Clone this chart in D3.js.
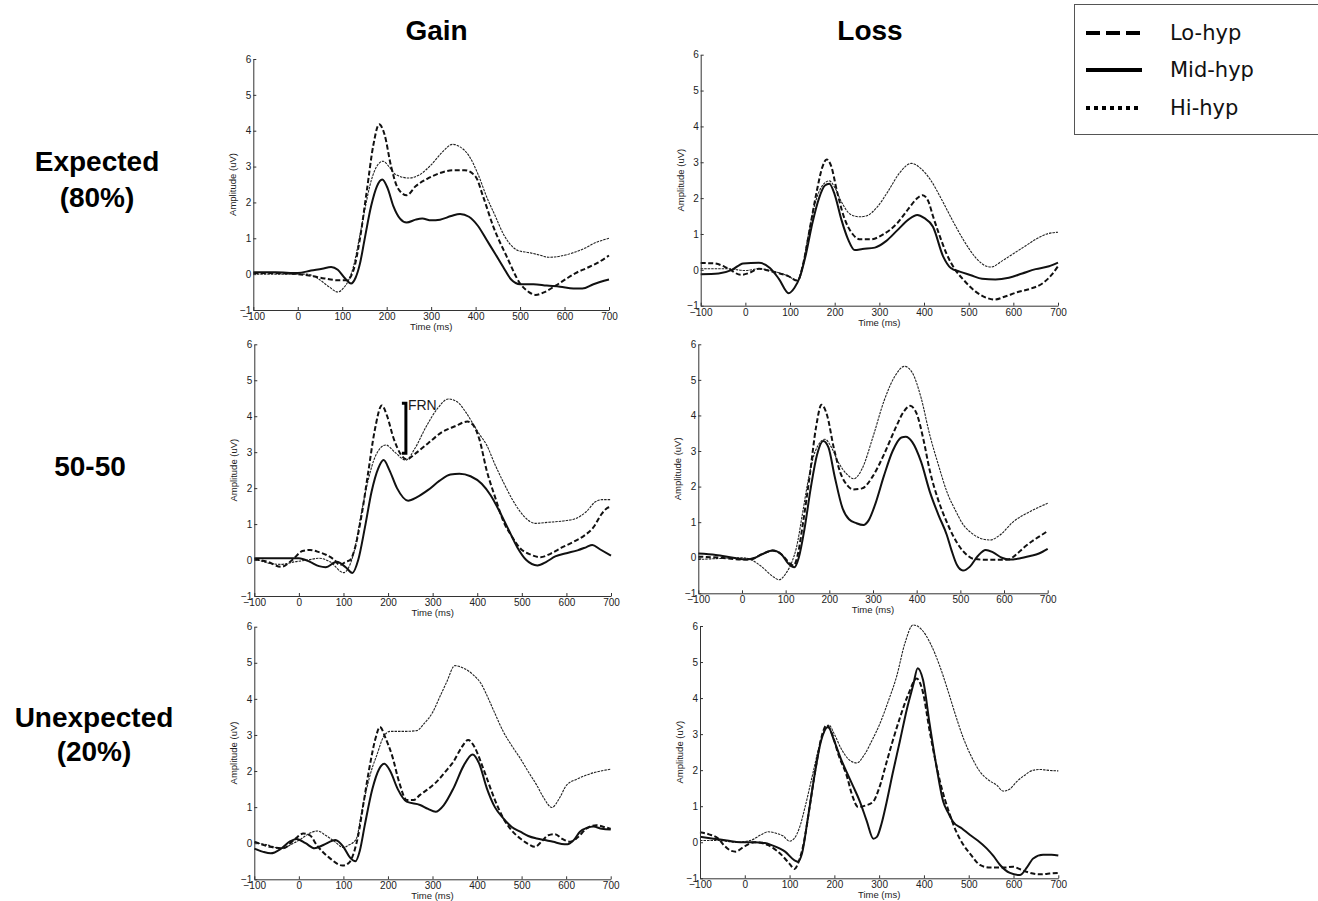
<!DOCTYPE html>
<html>
<head>
<meta charset="utf-8">
<script src="https://cdn.jsdelivr.net/npm/d3@7/dist/d3.min.js"></script>
<style>
  html, body { margin: 0; padding: 0; background: #fff; }
  svg { display: block; }
</style>
</head>
<body>
<script>
// ---------- DATA ----------
const colLabels = ["Gain", "Loss"];
const rowLabels = [["Expected", "(80%)"], ["50-50"], ["Unexpected", "(20%)"]];
const seriesNames = ["Lo-hyp", "Mid-hyp", "Hi-hyp"];
const timeTicks = [-100, 0, 100, 200, 300, 400, 500, 600, 700];
const ampTicks = [-1, 0, 1, 2, 3, 4, 5, 6];
const xLabel = "Time (ms)";
const yLabel = "Amplitude (uV)";

// Gain / Expected
const gainExpLo = [[-100,0.03],[-50,0.03],[0,0.0],[30,-0.05],[60,-0.12],[90,-0.17],[110,-0.17],[125,0.1],[140,1.0],[155,2.3],[170,3.6],[183,4.18],[195,3.9],[210,3.0],[225,2.4],[245,2.2],[265,2.45],[290,2.65],[320,2.82],[350,2.9],[375,2.9],[400,2.72],[417,2.16],[440,1.32],[470,0.49],[500,-0.26],[520,-0.5],[535,-0.58],[555,-0.5],[580,-0.32],[605,-0.12],[625,0.03],[650,0.17],[675,0.32],[700,0.52]];
const gainExpMid = [[-100,0.05],[-50,0.05],[0,0.03],[30,0.1],[55,0.15],[75,0.2],[90,0.12],[105,-0.1],[120,-0.26],[130,-0.1],[140,0.3],[150,0.95],[165,1.9],[178,2.45],[190,2.64],[202,2.4],[215,1.9],[230,1.55],[245,1.44],[265,1.52],[280,1.55],[300,1.5],[320,1.52],[345,1.62],[365,1.68],[385,1.6],[405,1.35],[425,0.95],[445,0.55],[462,0.2],[480,-0.15],[500,-0.28],[530,-0.28],[560,-0.32],[590,-0.35],[620,-0.4],[640,-0.4],[665,-0.28],[700,-0.15]];
const gainExpHi = [[-100,0.0],[-50,0.0],[0,0.0],[20,0.0],[45,-0.12],[70,-0.35],[90,-0.5],[102,-0.4],[115,-0.15],[125,0.2],[140,1.1],[150,1.75],[165,2.6],[180,3.05],[192,3.15],[205,3.0],[220,2.78],[250,2.68],[275,2.78],[300,3.05],[325,3.4],[348,3.62],[365,3.55],[385,3.3],[405,2.8],[425,2.15],[445,1.6],[462,1.13],[480,0.8],[495,0.66],[520,0.6],[545,0.53],[565,0.47],[590,0.5],[620,0.6],[645,0.72],[670,0.88],[700,1.0]];

// Loss / Expected
const lossExpLo = [[-100,0.19],[-70,0.18],[-40,0.05],[-10,-0.14],[10,-0.08],[30,0.03],[60,-0.05],[95,-0.17],[117,-0.3],[130,0.2],[145,1.2],[160,2.2],[172,2.85],[182,3.08],[192,2.9],[205,2.2],[220,1.5],[240,1.0],[258,0.85],[280,0.85],[310,1.0],[340,1.3],[365,1.7],[385,2.0],[397,2.08],[410,1.9],[420,1.5],[435,0.95],[450,0.46],[470,0.0],[490,-0.3],[515,-0.6],[540,-0.78],[558,-0.83],[580,-0.75],[610,-0.62],[640,-0.52],[665,-0.38],[685,-0.15],[700,0.1]];
const lossExpMid = [[-100,-0.12],[-60,-0.1],[-30,0.0],[-5,0.18],[30,0.2],[55,0.05],[75,-0.25],[97,-0.65],[110,-0.5],[122,-0.2],[135,0.4],[150,1.3],[165,2.0],[178,2.35],[188,2.4],[200,2.1],[215,1.4],[230,0.85],[245,0.55],[262,0.58],[290,0.62],[315,0.8],[340,1.1],[365,1.4],[385,1.53],[400,1.45],[420,1.2],[443,0.37],[460,0.05],[480,-0.05],[505,-0.15],[530,-0.25],[560,-0.27],[590,-0.22],[620,-0.1],[650,0.02],[680,0.1],[700,0.2]];
const lossExpHi = [[-100,0.03],[-40,0.03],[0,-0.02],[30,0.03],[60,-0.03],[95,-0.17],[117,-0.3],[128,0.1],[140,0.9],[155,1.8],[170,2.3],[188,2.48],[200,2.3],[215,1.9],[235,1.55],[255,1.48],[270,1.5],[295,1.75],[320,2.2],[345,2.7],[372,2.97],[395,2.8],[415,2.5],[440,1.95],[465,1.35],[490,0.8],[515,0.35],[540,0.1],[550,0.08],[575,0.25],[600,0.45],[625,0.65],[650,0.85],[675,1.0],[700,1.05]];

// Gain / 50-50
const gain50Lo = [[-100,0.02],[-70,-0.05],[-40,-0.19],[-15,0.0],[8,0.25],[25,0.28],[45,0.22],[62,0.14],[80,0.0],[92,-0.14],[105,-0.05],[115,0.0],[125,0.3],[140,1.2],[155,2.4],[170,3.6],[186,4.3],[198,4.0],[212,3.4],[228,2.95],[242,2.8],[260,2.95],[290,3.25],[320,3.55],[350,3.72],[378,3.85],[391,3.75],[405,3.35],[421,2.5],[440,1.75],[458,1.1],[478,0.65],[496,0.33],[520,0.15],[542,0.08],[565,0.18],[590,0.35],[615,0.5],[640,0.68],[660,0.9],[680,1.3],[692,1.45],[700,1.48]];
const gain50Mid = [[-100,0.05],[-50,0.05],[0,0.05],[25,-0.05],[45,-0.17],[60,-0.2],[85,-0.05],[105,-0.2],[120,-0.36],[133,0.0],[148,0.9],[163,1.9],[178,2.55],[190,2.78],[203,2.5],[220,2.0],[245,1.65],[265,1.75],[290,1.95],[315,2.2],[340,2.38],[360,2.4],[385,2.33],[410,2.12],[430,1.8],[450,1.35],[470,0.85],[490,0.35],[510,0.0],[535,-0.15],[555,-0.05],[575,0.1],[600,0.19],[625,0.27],[645,0.36],[658,0.42],[675,0.3],[700,0.12]];
const gain50Hi = [[-100,0.05],[-70,-0.08],[-40,-0.12],[-10,-0.05],[20,0.0],[45,0.05],[70,-0.05],[100,-0.35],[112,-0.2],[125,0.3],[140,1.3],[155,2.2],[172,2.9],[195,3.2],[215,3.0],[240,2.78],[260,3.1],[285,3.7],[310,4.2],[335,4.48],[355,4.4],[375,4.1],[391,3.78],[405,3.5],[421,3.2],[440,2.65],[458,2.18],[478,1.7],[496,1.35],[515,1.1],[530,1.02],[560,1.05],[600,1.1],[620,1.15],[645,1.35],[665,1.62],[680,1.68],[700,1.68]];

// Loss / 50-50
const loss50Lo = [[-100,0.03],[-50,0.0],[0,-0.05],[20,-0.05],[45,0.1],[70,0.2],[90,0.1],[105,-0.1],[118,-0.22],[128,0.1],[140,1.0],[155,2.3],[170,3.7],[182,4.3],[195,4.0],[210,3.1],[225,2.4],[240,2.05],[255,1.92],[275,1.95],[300,2.3],[325,2.9],[350,3.6],[370,4.1],[385,4.27],[400,4.05],[415,3.35],[430,2.45],[450,1.6],[469,1.0],[485,0.58],[500,0.28],[515,0.08],[530,-0.03],[560,-0.06],[590,-0.06],[610,-0.05],[625,0.06],[645,0.28],[665,0.47],[685,0.63],[700,0.75]];
const loss50Mid = [[-100,0.12],[-60,0.08],[-20,0.0],[10,-0.05],[30,0.0],[50,0.12],[70,0.2],[90,0.1],[105,-0.15],[120,-0.27],[130,0.0],[143,0.8],[158,2.0],[172,2.9],[186,3.28],[198,3.1],[212,2.3],[230,1.4],[245,1.08],[262,0.97],[278,0.92],[290,1.05],[305,1.5],[325,2.3],[345,3.0],[365,3.38],[375,3.4],[390,3.25],[410,2.7],[430,1.86],[450,1.2],[469,0.64],[480,0.2],[492,-0.2],[506,-0.36],[522,-0.25],[540,0.05],[558,0.22],[575,0.15],[595,0.0],[612,-0.05],[635,-0.02],[660,0.05],[680,0.12],[700,0.25]];
const loss50Hi = [[-100,-0.05],[-50,-0.02],[0,0.0],[20,-0.05],[45,-0.25],[70,-0.52],[85,-0.62],[100,-0.45],[115,-0.1],[125,0.3],[138,1.2],[152,2.2],[168,3.0],[190,3.33],[205,3.1],[220,2.7],[240,2.35],[256,2.22],[275,2.5],[300,3.4],[325,4.4],[350,5.1],[372,5.38],[390,5.2],[410,4.5],[430,3.45],[450,2.6],[469,1.86],[490,1.3],[507,0.92],[525,0.7],[545,0.55],[568,0.5],[591,0.64],[621,1.01],[660,1.3],[700,1.53]];

// Gain / Unexpected
const gainUnLo = [[-100,0.04],[-65,-0.1],[-35,-0.14],[-10,0.1],[10,0.27],[25,0.22],[40,-0.05],[70,-0.42],[98,-0.62],[112,-0.55],[125,-0.2],[133,0.2],[145,1.1],[160,2.2],[172,2.9],[182,3.22],[195,2.9],[210,2.4],[225,1.7],[242,1.2],[258,1.2],[272,1.34],[290,1.5],[309,1.7],[330,2.0],[347,2.26],[365,2.65],[380,2.86],[395,2.65],[410,2.2],[422,1.8],[440,1.2],[459,0.69],[478,0.35],[497,0.13],[515,-0.02],[530,-0.1],[545,0.05],[560,0.22],[575,0.25],[590,0.13],[609,0.04],[625,0.15],[646,0.41],[668,0.5],[685,0.45],[700,0.4]];
const gainUnMid = [[-100,-0.15],[-80,-0.24],[-63,-0.28],[-40,-0.15],[-20,0.05],[-5,0.12],[15,0.0],[35,-0.14],[55,-0.05],[82,0.09],[100,-0.1],[115,-0.4],[127,-0.5],[137,-0.2],[148,0.5],[165,1.5],[180,2.05],[192,2.2],[205,2.0],[222,1.5],[242,1.15],[272,1.06],[290,0.95],[307,0.87],[325,1.05],[347,1.52],[370,2.15],[390,2.46],[405,2.2],[422,1.52],[440,1.0],[459,0.69],[478,0.45],[497,0.32],[515,0.2],[534,0.13],[555,0.08],[571,0.04],[590,-0.02],[603,-0.03],[618,0.1],[631,0.32],[646,0.42],[661,0.46],[680,0.4],[700,0.38]];
const gainUnHi = [[-100,0.02],[-70,-0.05],[-40,-0.15],[-15,-0.02],[5,0.12],[25,0.28],[42,0.34],[60,0.22],[80,0.05],[100,-0.12],[112,-0.05],[122,0.02],[130,0.15],[140,0.8],[152,1.5],[165,2.1],[175,2.44],[190,2.95],[205,3.1],[240,3.1],[265,3.12],[280,3.3],[300,3.62],[318,4.1],[332,4.47],[350,4.92],[370,4.85],[392,4.66],[410,4.4],[422,4.1],[440,3.6],[459,3.09],[478,2.7],[497,2.35],[515,1.98],[534,1.61],[550,1.25],[568,0.99],[585,1.25],[601,1.61],[625,1.78],[646,1.89],[670,1.98],[700,2.05]];

// Loss / Unexpected
const lossUnLo = [[-100,0.28],[-80,0.22],[-60,0.11],[-45,-0.1],[-30,-0.24],[-20,-0.26],[-5,-0.15],[10,-0.04],[22,0.0],[40,-0.03],[52,-0.08],[70,-0.22],[82,-0.35],[100,-0.6],[111,-0.74],[120,-0.55],[132,0.0],[145,1.0],[160,2.2],[172,2.95],[183,3.25],[195,3.0],[210,2.4],[227,1.87],[240,1.3],[253,0.98],[270,1.02],[287,1.13],[300,1.5],[317,2.24],[330,2.8],[346,3.44],[365,4.1],[384,4.54],[397,4.2],[413,3.07],[425,2.3],[436,1.68],[458,0.76],[472,0.3],[488,-0.07],[505,-0.35],[525,-0.63],[545,-0.7],[562,-0.7],[580,-0.7],[599,-0.68],[615,-0.75],[629,-0.82],[659,-0.89],[680,-0.87],[700,-0.85]];
const lossUnMid = [[-100,0.15],[-70,0.1],[-40,0.05],[-10,0.0],[20,0.0],[45,-0.02],[60,-0.08],[90,-0.26],[111,-0.5],[119,-0.54],[128,-0.3],[140,0.6],[155,1.8],[170,2.8],[186,3.2],[200,2.8],[215,2.3],[227,1.96],[242,1.55],[257,1.13],[272,0.6],[287,0.1],[295,0.15],[305,0.5],[317,1.13],[330,1.9],[346,2.79],[362,3.7],[376,4.36],[386,4.83],[398,4.5],[413,3.26],[428,2.1],[443,1.13],[455,0.8],[465,0.57],[485,0.38],[503,0.2],[520,0.05],[540,-0.17],[555,-0.38],[570,-0.63],[592,-0.85],[614,-0.91],[630,-0.7],[644,-0.45],[666,-0.35],[685,-0.35],[700,-0.37]];
const lossUnHi = [[-100,0.05],[-60,0.05],[-20,0.0],[15,0.06],[35,0.2],[52,0.29],[70,0.25],[85,0.18],[100,0.03],[110,0.1],[122,0.4],[135,1.0],[150,1.8],[165,2.6],[178,3.1],[188,3.25],[200,3.0],[215,2.6],[232,2.3],[250,2.2],[268,2.45],[285,2.85],[302,3.3],[320,3.9],[339,4.6],[357,5.5],[376,6.03],[395,5.9],[415,5.5],[435,4.9],[455,4.15],[470,3.55],[488,2.89],[507,2.35],[525,1.96],[545,1.72],[562,1.59],[577,1.42],[592,1.48],[607,1.68],[625,1.86],[644,2.0],[660,2.02],[674,2.0],[700,1.98]];

// FRN annotation (Gain / 50-50)
const frnTime = 240, frnTop = 4.36, frnBottom = 2.97, frnLabel = "FRN";

// ---------- LAYOUT ----------
const W = 1318, H = 901;
const panels = [
  { row: 0, col: 0, x0: 253.3, x1: 609,    y0: 59,    y1: 310,   data: [gainExpLo, gainExpMid, gainExpHi] },
  { row: 0, col: 1, x0: 700.7, x1: 1058,   y0: 54.7,  y1: 305.7, data: [lossExpLo, lossExpMid, lossExpHi] },
  { row: 1, col: 0, x0: 254.3, x1: 611,    y0: 344.3, y1: 596,   data: [gain50Lo, gain50Mid, gain50Hi], frn: true },
  { row: 1, col: 1, x0: 698.3, x1: 1047.7, y0: 344.3, y1: 593.3, data: [loss50Lo, loss50Mid, loss50Hi] },
  { row: 2, col: 0, x0: 254.3, x1: 610.7,  y0: 626.7, y1: 879.3, data: [gainUnLo, gainUnMid, gainUnHi] },
  { row: 2, col: 1, x0: 700,   x1: 1058.3, y0: 626,   y1: 878.3, data: [lossUnLo, lossUnMid, lossUnHi] }
];
const styles = [
  { width: 2,   dash: "5,2.5", color: "#111" },  // Lo-hyp dashed
  { width: 2,   dash: null,    color: "#111" },  // Mid-hyp solid
  { width: 1.1, dash: "2.5,1", color: "#222" }   // Hi-hyp dotted
];
const legendStyles = [
  { width: 4, dash: "14,6" },
  { width: 4, dash: null },
  { width: 4, dash: "4,4" }
];

const svg = d3.select("body").append("svg").attr("width", W).attr("height", H)
  .style("font-family", "'Liberation Sans', Arial, sans-serif");
svg.append("rect").attr("width", W).attr("height", H).attr("fill", "#fff");

// column titles
const titleX = [436.5, 870];
colLabels.forEach((t, i) => {
  svg.append("text").attr("x", titleX[i]).attr("y", 40)
    .attr("text-anchor", "middle").attr("font-size", 28).attr("font-weight", "bold")
    .attr("fill", "#000").text(t);
});

// row labels
const rowPos = [
  { x: 97, ys: [171, 207] },
  { x: 90, ys: [476] },
  { x: 94, ys: [727, 761] }
];
rowLabels.forEach((lines, i) => {
  lines.forEach((l, j) => {
    svg.append("text").attr("x", rowPos[i].x).attr("y", rowPos[i].ys[j])
      .attr("text-anchor", "middle").attr("font-size", 28).attr("font-weight", "bold")
      .attr("fill", "#000").text(l);
  });
});

const fmt = d3.format("d");

// panels
panels.forEach(p => {
  const x = d3.scaleLinear().domain([-100, 700]).range([p.x0, p.x1]);
  const y = d3.scaleLinear().domain([-1, 6]).range([p.y1, p.y0]);
  const g = svg.append("g");

  const line = d3.line().x(d => x(d[0])).y(d => y(d[1])).curve(d3.curveMonotoneX);
  [2, 0, 1].forEach(k => {
    const s = styles[k];
    g.append("path").datum(p.data[k]).attr("d", line)
      .attr("fill", "none").attr("stroke", s.color).attr("stroke-width", s.width)
      .attr("stroke-dasharray", s.dash).attr("stroke-linejoin", "round");
  });

  const ax = g.append("g").attr("transform", `translate(0,${p.y1})`)
    .call(d3.axisBottom(x).tickValues(timeTicks).tickFormat(fmt)
      .tickSizeInner(-3).tickSizeOuter(0).tickPadding(3));
  const ay = g.append("g").attr("transform", `translate(${p.x0},0)`)
    .call(d3.axisLeft(y).tickValues(ampTicks).tickFormat(fmt)
      .tickSizeInner(-3).tickSizeOuter(0).tickPadding(2));
  [ax, ay].forEach(a => {
    a.select(".domain").attr("stroke", "#333").attr("stroke-width", 1);
    a.selectAll(".tick line").attr("stroke", "#333");
    a.selectAll(".tick text").attr("fill", "#222").attr("font-size", 10)
      .style("font-family", "'Liberation Sans', Arial, sans-serif");
  });

  g.append("text").attr("x", (p.x0 + p.x1) / 2).attr("y", p.y1 + 20)
    .attr("text-anchor", "middle").attr("font-size", 9.5).attr("fill", "#222").text(xLabel);
  g.append("text")
    .attr("transform", `translate(${p.x0 - 17},${(p.y0 + p.y1) / 2}) rotate(-90)`)
    .attr("text-anchor", "middle").attr("font-size", 9.5).attr("fill", "#222").text(yLabel);

  if (p.frn) {
    const fx = x(frnTime);
    g.append("path")
      .attr("d", `M${fx - 4},${y(frnTop)} H${fx} V${y(frnBottom)} H${fx - 4}`)
      .attr("fill", "none").attr("stroke", "#000").attr("stroke-width", 3);
    g.append("text").attr("x", fx + 2).attr("y", y(frnTop) + 7)
      .attr("font-size", 14).attr("fill", "#1a1a1a").text(frnLabel);
  }
});

// legend
const lg = svg.append("g");
lg.append("rect").attr("x", 1074.5).attr("y", 4.5).attr("width", 260).attr("height", 130)
  .attr("fill", "#fff").attr("stroke", "#555").attr("stroke-width", 1);
const legY = [33, 70, 108];
seriesNames.forEach((n, i) => {
  const s = legendStyles[i];
  lg.append("line").attr("x1", 1086).attr("x2", 1142).attr("y1", legY[i]).attr("y2", legY[i])
    .attr("stroke", "#000").attr("stroke-width", s.width).attr("stroke-dasharray", s.dash);
  lg.append("text").attr("x", 1170).attr("y", legY[i] + 7)
    .attr("font-size", 21).attr("fill", "#111")
    .style("font-family", "'DejaVu Sans', sans-serif").text(n);
});
</script>
</body>
</html>
